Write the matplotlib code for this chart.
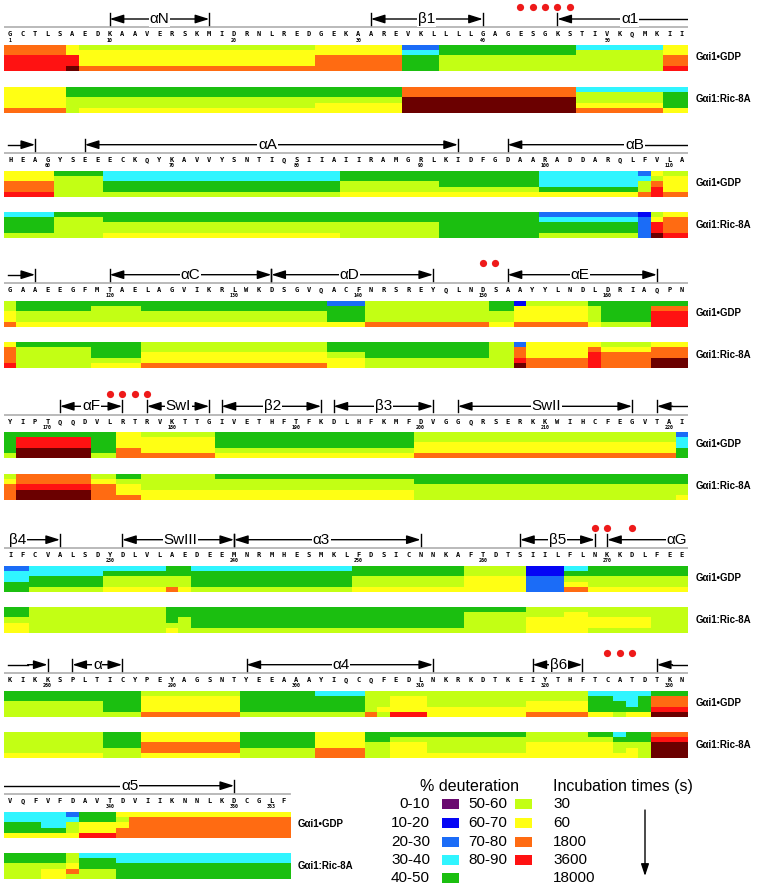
import numpy as np
import matplotlib
matplotlib.use("Agg")
import matplotlib.pyplot as plt
from matplotlib.colors import ListedColormap, BoundaryNorm
from matplotlib.patches import Rectangle

plt.rcParams['font.family'] = ['Liberation Sans', 'DejaVu Sans']

# deuteration classes (lowest -> highest), one letter each
codes = "pbmcglyord"
class_colors = ["#6a0a70", "#0505f5", "#1b6cf7", "#30f5ff", "#1bbf10",
                "#c3ff14", "#ffff14", "#ff6b12", "#ff1212", "#6b0000"]
class_labels = ["0-10", "10-20", "20-30", "30-40", "40-50",
                "50-60", "60-70", "70-80", "80-90"]
times = ["30", "60", "1800", "3600", "18000"]

seq_blocks = [
    "GCTLSAEDKAAVERSKMIDRNLREDGEKAAREVKLLLLGAGESGKSTIVKQMKII",
    "HEAGYSEEECKQYKAVVYSNTIQSIIAIIRAMGRLKIDFGDAARADDARQLFVLA",
    "GAAEEGFMTAELAGVIKRLWKDSGVQACFNRSREYQLNDSAAYYLNDLDRIAQPN",
    "YIPTQQDVLRTRVKTTGIVETHFTFKDLHFKMFDVGGQRSERKKWIHCFEGVTAI",
    "IFCVALSDYDLVLAEDEEMNRMHESMKLFDSICNNKAFTDTSIILFLNKKDLFEE",
    "KIKKSPLTICYPEYAGSNTYEEAAAYIQCQFEDLNKRKDTKEIYTHFTCATDTKN",
    "VQFVFDAVTDVIIKNNLKDCGLF",
]
res_numbers = [1] + list(range(10, 351, 10)) + [353]

# runs: (number of residues, class at 30 / 60 / 1800 / 3600 / 18000 s)
gdp_runs = [
    [(5, "oorrr"), (1, "yyrrd"), (19, "lyyyo"), (7, "yyooo"), (3, "mcggg"),
     (11, "gglll"), (7, "cllll"), (2, "yyoor")],
    [(4, "yyoor"), (4, "gllll"), (19, "ccggl"), (8, "gglly"), (8, "gggly"),
     (8, "cccgy"), (1, "mcllo"), (1, "ylorr"), (2, "lyyyo")],
    [(1, "llyyo"), (6, "gglly"), (4, "gllly"), (15, "gglly"), (3, "mgggy"),
     (10, "llllo"), (2, "gglly"), (1, "byyyo"), (5, "lyyyo"), (1, "gllly"),
     (4, "ggggl"), (3, "gorrr")],
    [(1, "ggggl"), (6, "grrdd"), (2, "ggggl"), (2, "yyyoo"), (6, "lyyyo"),
     (16, "gggly"), (21, "llyyo"), (1, "mccgg")],
    [(2, "mccgg"), (6, "ccggl"), (5, "cglly"), (1, "ggllo"), (1, "gglly"),
     (13, "cgggl"), (9, "gglly"), (5, "llyyy"), (3, "bbmmm"), (2, "cglyo"),
     (8, "gglly")],
    [(8, "gglll"), (3, "ggggl"), (8, "lyyyo"), (6, "ggggl"), (4, "cgggl"),
     (1, "llllo"), (1, "lllyl"), (3, "lyyyr"), (8, "lllyy"), (5, "llyyo"),
     (2, "cgggy"), (1, "ccggl"), (1, "cccgy"), (1, "cgggy"), (3, "goord")],
    [(3, "ccggy"), (2, "cccgy"), (1, "mclly"), (3, "ggyyr"), (1, "ylyoo"),
     (13, "yoooo")],
]
ric_runs = [
    [(5, "yyyyo"), (1, "gglll"), (19, "gglly"), (7, "gglyy"), (14, "ooddd"),
     (7, "cllyo"), (2, "cgggy")],
    [(4, "cgggl"), (4, "gllll"), (19, "gglly"), (8, "gglll"), (8, "ggggg"),
     (8, "mcggl"), (1, "bmmmm"), (1, "lyrrd"), (2, "yooor")],
    [(1, "yooor"), (6, "gllll"), (4, "gggly"), (15, "llyyo"), (3, "gglyy"),
     (10, "gggll"), (2, "lllll"), (1, "moord"), (5, "yyyoo"), (1, "yorrr"),
     (4, "lyooo"), (3, "yoodd")],
    [(1, "lyooo"), (6, "oordd"), (2, "lyooo"), (2, "glyyo"), (6, "lllyy"),
     (16, "gllyy"), (21, "gglll"), (1, "gglly")],
    [(2, "gglyy"), (6, "lllll"), (5, "lllll"), (1, "gggly"), (1, "gglll"),
     (22, "ggggl"), (5, "gllll"), (3, "llyyy"), (2, "lyyyy"), (5, "llyyl"),
     (3, "lllll")],
    [(8, "lllly"), (3, "gggll"), (8, "yyooy"), (6, "gggll"), (4, "yyyoo"),
     (1, "gglll"), (1, "gglll"), (3, "glyyy"), (8, "gllly"), (5, "llyyy"),
     (2, "glyyy"), (1, "cglly"), (1, "gglyy"), (1, "gglll"), (3, "orddd")],
    [(3, "gglll"), (2, "gglyy"), (1, "llyol"), (3, "cggll"), (14, "ccggg")],
]

# secondary structure: (label, start, end, label position, left end, right end)
ss_blocks = [
    [("αN", 8, 16, 12, "bar", "bar"), ("β1", 29, 38, 33.5, "bar", "bar"),
     ("α1", 44, 54.5, 49.8, "bar", "open")],
    [("", -0.2, 2, None, "open", "bar"), ("αA", 6, 36, 20.7, "bar", "bar"),
     ("αB", 40, 54.5, 50.2, "bar", "open")],
    [("", -0.2, 2, None, "open", "bar"), ("αC", 8, 21, 14.5, "bar", "bar"),
     ("αD", 21, 34, 27.3, "bar", "bar"), ("αE", 40, 52, 45.8, "bar", "bar")],
    [("αF", 4, 9, 6.5, "bar", "bar"), ("SwI", 11, 16, 13.5, "bar", "bar"),
     ("β2", 17, 25, 21.1, "bar", "bar"), ("β3", 26, 34, 30, "bar", "bar"),
     ("SwII", 36, 50, 43.1, "bar", "bar"), ("", 52, 54.5, None, "bar", "open")],
    [("β4", 0.6, 4, 0.6, "open", "bar"), ("SwIII", 9, 18, 13.7, "bar", "bar"),
     ("α3", 18, 33, 25, "bar", "bar"), ("β5", 41, 47, 44, "bar", "bar"),
     ("αG", 48, 53.6, 53.6, "bar", "open")],
    [("", -0.2, 3, None, "open", "bar"), ("α", 5, 9, 7, "bar", "bar"),
     ("α4", 19, 34, 26.6, "bar", "bar"), ("β6", 42, 46, 44.1, "bar", "bar"),
     ("", 52, 54.5, None, "bar", "open")],
    [("α5", -0.5, 18, 9.6, "open", "bar")],
]
# protected residues marked with red dots (index within block)
dot_blocks = [[41, 42, 43, 44, 45], [], [38, 39], [8, 9, 10, 11],
              [47, 48, 50], [48, 49, 50], []]

W, H = 764, 888
block_tops = [45, 170.7, 300.7, 432.3, 565.7, 690.7, 811.7]
x_left, cell = 4, 684 / 55
map_h, ric_off = 26, 41.6

cmap = ListedColormap(class_colors)
norm = BoundaryNorm(np.arange(len(class_colors) + 1) - 0.5, len(class_colors))


def runs_to_matrix(runs):
    cols = []
    for n, cls in runs:
        col = [codes.index(c) for c in cls]
        cols += [col] * n
    return np.array(cols).T


def draw_end(ax, xm, xe, y, kind):
    if kind == "bar":
        ax.annotate("", xy=(xe, y), xytext=(xm, y),
                    arrowprops=dict(arrowstyle="-|>,head_length=0.7,head_width=0.22",
                                    lw=1, color="black", shrinkA=0, shrinkB=0,
                                    mutation_scale=12))
        ax.plot([xe, xe], [y - 6, y + 6], color="black", lw=1)
    elif xm != xe:
        ax.plot([xm, xe], [y, y], color="black", lw=1)


fig = plt.figure(figsize=(W / 100, H / 100), dpi=100)

num_start = 0
for b, seq in enumerate(seq_blocks):
    T = block_tops[b]
    n = len(seq)
    ax = fig.add_axes([x_left / W, 0, 55 * cell / W, 1])
    ax.axis("off")

    for k, runs in enumerate([gdp_runs[b], ric_runs[b]]):
        top = T + k * ric_off
        ax.imshow(runs_to_matrix(runs), cmap=cmap, norm=norm, aspect="auto",
                  interpolation="nearest", extent=(-0.5, n - 0.5, top + map_h, top))
    ax.set_xlim(-0.5, 54.5)
    ax.set_ylim(H, 0)

    ax.text(n + 0.15, T + 12, "Gαi1•GDP", fontsize=7, fontweight="bold", va="center")
    ax.text(n + 0.15, T + ric_off + 12.5, "Gαi1:Ric-8A", fontsize=7,
            fontweight="bold", va="center")

    ax.plot([-0.5, n - 0.5], [T - 17.5, T - 17.5], color="#b4b4b4", lw=1.3)
    for i, ch in enumerate(seq):
        ax.text(i, T - 10.5, ch, fontsize=5, family="DejaVu Sans Mono",
                fontweight="bold", ha="center", va="center")
    for r in res_numbers:
        pos = max(r - 2, 0) - num_start
        if 0 <= pos < n:
            ax.text(pos, T - 5, str(r), fontsize=3.6, family="DejaVu Sans Mono",
                    fontweight="bold", ha="center", va="center")
    num_start += n

    ya = T - 26
    for label, x0, x1, xl, left, right in ss_blocks[b]:
        xm = xl if xl is not None else (x0 + x1) / 2
        draw_end(ax, xm, x0, ya, left)
        draw_end(ax, xm, x1, ya, right)
        if label:
            ax.text(xl, ya, label, fontsize=11, ha="center", va="center",
                    bbox=dict(facecolor="white", edgecolor="none", pad=0.6), zorder=5)
    if dot_blocks[b]:
        ax.plot(dot_blocks[b], [T - 38] * len(dot_blocks[b]), "o",
                color="#ee1a1a", ms=5.2, mec="none")

# legend
lg = fig.add_axes([0, 0, 1, 1], zorder=-1)
lg.set_xlim(0, W)
lg.set_ylim(H, 0)
lg.axis("off")
lg.text(469, 786, "% deuteration", fontsize=11.5, ha="center", va="center")
lg.text(553, 786, "Incubation times (s)", fontsize=11.5, ha="left", va="center")
row_y = [804.3, 823, 841.5, 860, 877.5]
for i, lab in enumerate(class_labels):
    col, row = divmod(i, 5)
    tx, bx = [(430, 441.5), (507, 515)][col]
    y = row_y[row]
    lg.text(tx, y, lab, fontsize=11, ha="right", va="center")
    lg.add_patch(Rectangle((bx, y - 5), 17, 10, facecolor=class_colors[i],
                           edgecolor="none"))
for t, y in zip(times, row_y):
    lg.text(553, y, t, fontsize=11, ha="left", va="center")
lg.annotate("", xy=(645, 876), xytext=(645, 810),
            arrowprops=dict(arrowstyle="-|>,head_length=0.6,head_width=0.2",
                            lw=1, color="black", shrinkA=0, shrinkB=0,
                            mutation_scale=12))

fig.savefig("out.png", dpi=100)
